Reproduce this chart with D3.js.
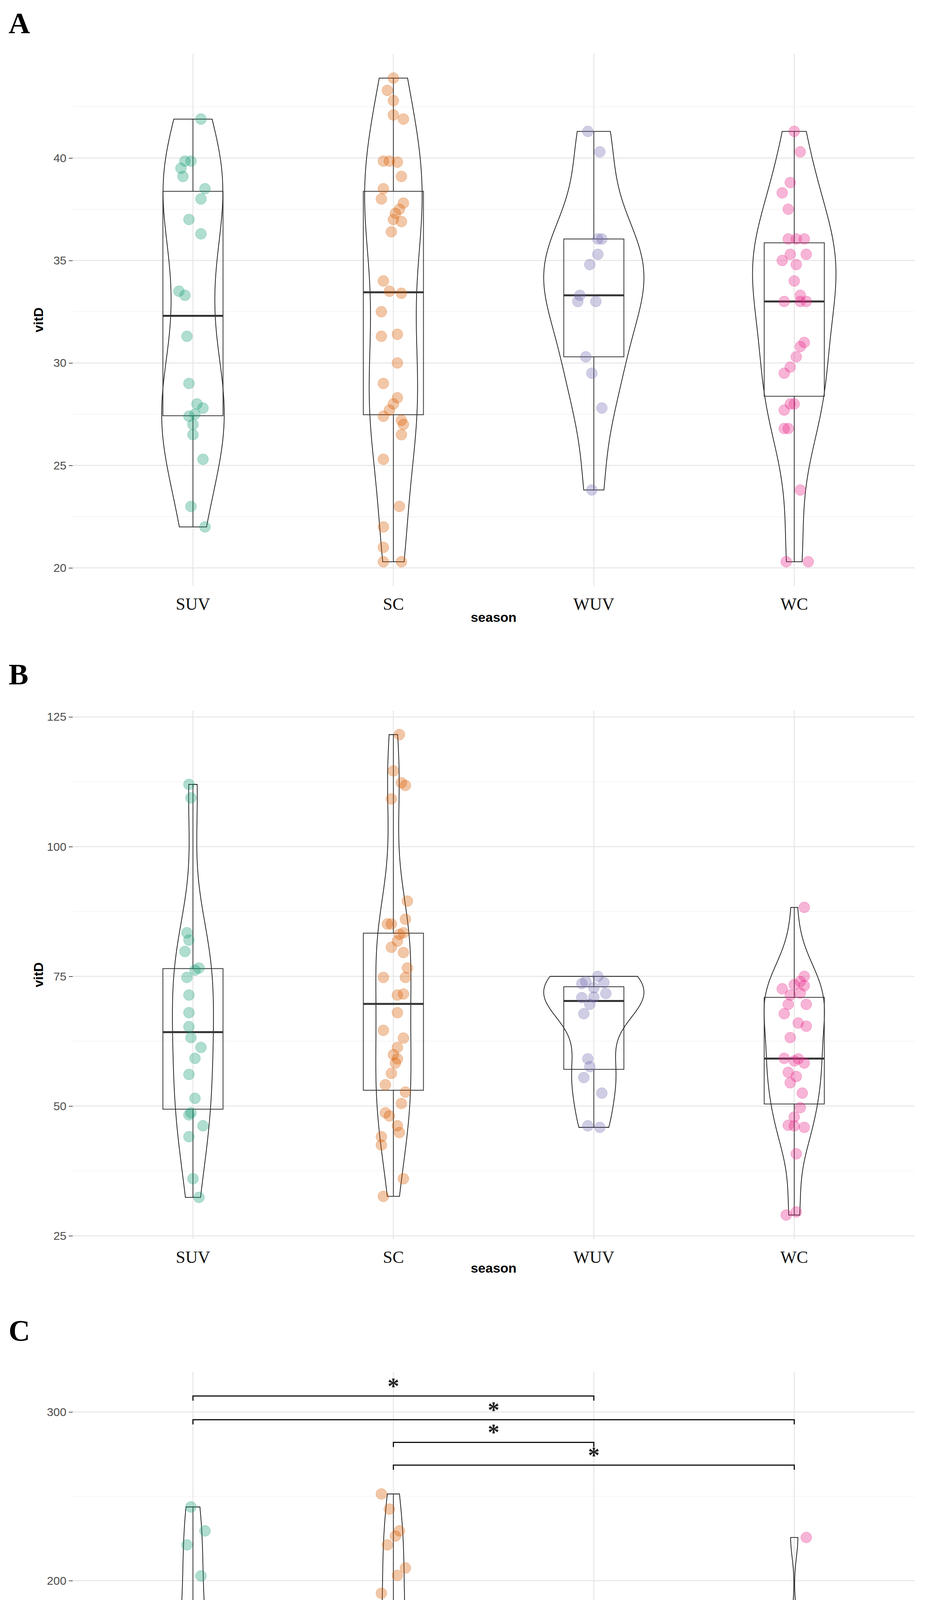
<!DOCTYPE html>
<html>
<head>
<meta charset="utf-8">
<script src="https://cdn.jsdelivr.net/npm/d3@7"></script>
<style>
  body { margin: 0; background: #fff; }
</style>
</head>
<body>
<div id="chart"></div>
<script>
const seasons = ["SUV", "SC", "WUV", "WC"];
const colors = ["#1B9E77", "#D95F02", "#7570B3", "#E7298A"];

// each point: [jitter offset in category steps, vitD value]
const panelA = {
  SUV: [[0.04,41.9],[-0.01,39.85],[-0.04,39.85],[-0.06,39.5],[-0.05,39.1],[0.06,38.5],[0.04,38.0],[-0.02,37.0],[0.04,36.3],[-0.07,33.5],[-0.04,33.3],[-0.03,31.3],[-0.02,29.0],[0.02,28.0],[0.05,27.8],[0.01,27.5],[-0.02,27.4],[0.0,27.0],[0.0,26.5],[0.05,25.3],[-0.01,23.0],[0.06,22.0]],
  SC: [[0.0,43.9],[-0.03,43.3],[0.0,42.8],[0.0,42.1],[0.05,41.9],[-0.05,39.85],[-0.02,39.85],[0.02,39.8],[0.04,39.1],[-0.05,38.5],[-0.06,38.0],[0.05,37.8],[0.03,37.5],[0.01,37.3],[0.0,37.0],[0.04,36.9],[-0.01,36.4],[-0.05,34.0],[-0.02,33.5],[0.04,33.4],[-0.06,32.5],[-0.06,31.3],[0.02,31.4],[0.02,30.0],[-0.05,29.0],[0.02,28.3],[0.0,28.0],[-0.02,27.7],[-0.05,27.4],[0.04,27.2],[0.05,27.0],[0.04,26.5],[-0.05,25.3],[0.03,23.0],[-0.05,22.0],[-0.05,21.0],[-0.05,20.3],[0.04,20.3]],
  WUV: [[-0.03,41.3],[0.03,40.3],[0.02,36.05],[0.04,36.05],[0.02,35.3],[-0.02,34.8],[-0.07,33.3],[-0.08,33.0],[0.01,33.0],[-0.04,30.3],[-0.01,29.5],[0.04,27.8],[-0.01,23.8]],
  WC: [[0.0,41.3],[0.03,40.3],[-0.02,38.8],[-0.06,38.3],[-0.03,37.5],[-0.03,36.05],[0.01,36.05],[0.05,36.05],[-0.06,35.0],[0.01,34.8],[0.06,35.3],[-0.02,35.3],[0.0,34.0],[0.03,33.3],[-0.05,33.0],[0.06,33.0],[0.03,33.0],[0.05,31.0],[0.03,30.8],[0.01,30.3],[-0.02,29.8],[-0.05,29.5],[0.0,28.0],[-0.02,28.0],[-0.05,27.7],[-0.05,26.8],[-0.03,26.8],[0.03,23.8],[-0.04,20.3],[0.07,20.3]]
};
const panelB = {
  SUV: [[-0.02,112.0],[-0.01,109.4],[-0.03,83.4],[-0.02,82.0],[-0.04,79.8],[0.03,76.6],[0.01,76.2],[-0.03,74.8],[-0.02,71.4],[-0.02,68.0],[-0.02,65.3],[-0.01,63.2],[0.04,61.3],[0.01,59.2],[-0.02,56.1],[0.01,51.5],[-0.02,48.3],[-0.01,48.7],[0.05,46.2],[-0.02,44.1],[0.0,36.0],[0.03,32.4]],
  SC: [[0.03,121.6],[0.0,114.6],[0.04,112.3],[0.06,111.8],[-0.01,109.2],[0.07,89.5],[-0.03,85.1],[-0.01,85.1],[0.06,86.0],[0.05,83.4],[0.03,83.1],[0.02,81.8],[-0.01,80.6],[0.05,79.6],[0.07,76.6],[0.06,74.8],[-0.05,74.8],[0.02,71.4],[0.05,71.6],[0.02,68.0],[-0.05,64.6],[0.05,63.1],[0.02,61.3],[0.0,59.9],[0.02,59.1],[0.01,58.3],[-0.01,56.3],[-0.04,54.1],[0.06,52.7],[0.04,50.5],[-0.04,48.7],[-0.02,48.1],[0.02,46.2],[0.03,44.9],[-0.06,44.1],[-0.06,42.5],[0.05,36.0],[-0.05,32.6]],
  WUV: [[-0.04,74.0],[0.02,75.0],[0.05,73.8],[-0.06,73.6],[0.0,72.8],[0.06,71.7],[-0.06,70.9],[0.0,71.0],[-0.02,69.6],[-0.05,67.8],[-0.03,59.1],[-0.02,57.6],[-0.05,55.5],[0.04,52.5],[-0.03,46.2],[0.03,45.9]],
  WC: [[0.05,88.3],[0.05,75.0],[0.03,74.0],[0.0,73.4],[0.05,73.2],[-0.06,72.6],[-0.02,71.4],[0.03,71.8],[0.06,69.6],[-0.03,69.6],[-0.05,67.8],[0.02,66.0],[0.06,65.4],[-0.02,63.2],[-0.05,59.2],[0.0,58.7],[0.02,59.1],[0.05,58.3],[-0.03,56.5],[0.01,55.7],[-0.02,54.5],[0.04,52.5],[0.03,49.7],[0.0,47.9],[-0.03,46.3],[0.0,46.2],[0.05,45.9],[0.01,40.8],[-0.04,29.0],[0.01,29.6]]
};
const panelC = {
  SUV: [[-0.01,243.7],[0.06,229.5],[-0.03,221.2],[0.04,202.8],[0.05,178.3],[0.0,173.1],[0.05,161.0],[-0.04,150.6],[-0.02,139.0],[-0.06,126.1],[0.05,118.9],[-0.05,109.3],[0.04,110.1],[0.03,102.1],[-0.06,95.6],[-0.02,93.0],[0.03,91.2],[0.05,88.6],[-0.03,82.7],[0.02,77.5]],
  SC: [[-0.06,251.4],[-0.02,242.4],[0.03,229.5],[0.01,226.4],[-0.03,221.2],[0.06,207.5],[0.02,203.1],[-0.06,192.5],[-0.05,178.3],[0.05,173.1],[0.0,169.5],[-0.01,161.8],[0.06,150.6],[0.01,148.8],[0.0,139.5],[0.06,126.1],[-0.05,118.9],[-0.03,115.8],[0.03,111.1],[0.01,108.5],[-0.04,105.4],[0.05,104.1],[-0.03,98.2],[0.01,95.1],[-0.06,91.2],[0.02,89.9],[-0.02,86.0],[-0.06,88.6],[0.01,80.9],[0.06,78.3],[-0.03,75.7],[0.01,71.8],[-0.01,69.8],[-0.05,51.7]],
  WUV: [[-0.01,111.9],[-0.02,102.1],[0.06,101.0],[-0.03,75.7],[0.05,74.9],[0.0,69.8],[0.04,69.3],[-0.05,64.1],[-0.02,60.2],[-0.06,58.4],[0.0,56.3],[0.05,52.5],[-0.03,48.6],[0.0,47.3],[0.05,39.5],[-0.03,39.5],[-0.06,34.4],[-0.01,29.2],[-0.05,27.1]],
  WC: [[0.06,225.6],[-0.03,170.5],[-0.07,111.9],[0.0,101.5],[0.01,100.3],[-0.01,89.9],[0.04,81.6],[-0.04,78.3],[0.02,77.0],[0.04,74.9],[-0.02,71.3],[0.06,67.9],[-0.05,66.7],[-0.01,62.8],[0.02,61.5],[-0.04,58.4],[0.01,56.8],[0.04,55.0],[-0.02,52.5],[-0.05,47.3],[0.02,48.1],[0.06,46.0],[0.0,43.9],[-0.04,42.1],[0.02,40.8],[0.03,36.9],[0.0,35.6],[-0.04,33.1],[-0.04,26.6],[0.06,24.0]]
};

const ticksA = [20, 25, 30, 35, 40];
const ticksB = [25, 50, 75, 100, 125];
const ticksC = [100, 200, 300];

const comparisons = [["SUV", "WUV"], ["SUV", "WC"], ["SC", "WUV"], ["SC", "WC"]];
const bracketY = [309.5, 295.4, 282, 268.5];
const bracketLabels = ["*", "*", "*", "*"];

const width = 2418, height = 4990;
const left = 186, right = 2340;

const svg = d3.select("#chart").append("svg")
  .attr("width", width).attr("height", height)
  .style("font-family", "'Liberation Sans', Arial, sans-serif");

const x = d3.scalePoint().domain(seasons).range([left, right]).padding(0.6);
const step = x.step();
const color = d3.scaleOrdinal().domain(seasons).range(colors);

function nrd0(v) {
  const s = d3.deviation(v);
  const iqr = (d3.quantile(v, 0.75) - d3.quantile(v, 0.25)) / 1.34;
  let lo = Math.min(s, iqr);
  if (!(lo > 0)) lo = s || Math.abs(v[0]) || 1;
  return 0.9 * lo * Math.pow(v.length, -0.2);
}

function kde(values) {
  const v = values.slice().sort(d3.ascending);
  const bw = nrd0(v);
  const lo = v[0], hi = v[v.length - 1];
  const n = 200;
  return d3.range(n + 1).map(i => {
    const t = lo + (hi - lo) * i / n;
    const dens = d3.mean(v, d => Math.exp(-0.5 * ((t - d) / bw) ** 2)) / (bw * Math.sqrt(2 * Math.PI));
    return [t, dens];
  });
}

function drawPanel(cfg) {
  const g = svg.append("g");
  const all = seasons.flatMap(s => cfg.data[s].map(d => d[1])).concat(cfg.extra || []);
  const lo = d3.min(all), hi = d3.max(all), pad = (hi - lo) * 0.05;
  const y = d3.scaleLinear().domain([lo - pad, hi + pad]).range([cfg.bottom, cfg.top]);

  // minor grid
  const minor = cfg.ticks.slice(0, -1).map((t, i) => (t + cfg.ticks[i + 1]) / 2);
  const stepT = cfg.ticks[1] - cfg.ticks[0];
  minor.push(cfg.ticks[0] - stepT / 2, cfg.ticks[cfg.ticks.length - 1] + stepT / 2);
  g.selectAll(".minor").data(minor.filter(t => t > y.domain()[0] && t < y.domain()[1])).join("line")
    .attr("x1", left).attr("x2", right).attr("y1", y).attr("y2", y)
    .attr("stroke", "#F2F2F2").attr("stroke-width", 1.5);
  g.selectAll(".major").data(cfg.ticks).join("line")
    .attr("x1", left).attr("x2", right).attr("y1", y).attr("y2", y)
    .attr("stroke", "#E6E6E6").attr("stroke-width", 2.5);
  g.selectAll(".vgrid").data(seasons).join("line")
    .attr("x1", d => x(d)).attr("x2", d => x(d)).attr("y1", cfg.top).attr("y2", cfg.bottom)
    .attr("stroke", "#E6E6E6").attr("stroke-width", 2.5);

  // y axis
  const yAxis = g.append("g").attr("transform", `translate(${left},0)`)
    .call(d3.axisLeft(y).tickValues(cfg.ticks).tickSize(10).tickPadding(6));
  yAxis.select(".domain").remove();
  yAxis.selectAll("line").attr("stroke", "#555").attr("stroke-width", 2);
  yAxis.selectAll("text").attr("fill", "#4D4D4D").style("font-size", "30px")
    .style("font-family", "'Liberation Sans Narrow', 'Liberation Sans', sans-serif");

  // density scale (shared across groups)
  const dens = seasons.map(s => kde(cfg.data[s].map(d => d[1])));
  const maxD = d3.max(dens, a => d3.max(a, d => d[1]));
  const w = d3.scaleLinear().domain([0, maxD]).range([0, 0.25 * step]);

  seasons.forEach((s, i) => {
    const cx = x(s);
    const area = d3.area().curve(d3.curveLinear)
      .y(d => y(d[0])).x0(d => cx - w(d[1])).x1(d => cx + w(d[1]));
    g.append("path").datum(dens[i]).attr("d", area)
      .attr("fill", "none").attr("stroke", "#111").attr("stroke-width", 1.8);

    const vals = cfg.data[s].map(d => d[1]).sort(d3.ascending);
    const q1 = d3.quantile(vals, 0.25), med = d3.quantile(vals, 0.5), q3 = d3.quantile(vals, 0.75);
    const iqr = q3 - q1;
    const wLo = d3.min(vals.filter(v => v >= q1 - 1.5 * iqr));
    const wHi = d3.max(vals.filter(v => v <= q3 + 1.5 * iqr));
    const bw = 0.3 * step;
    g.append("line").attr("x1", cx).attr("x2", cx).attr("y1", y(q3)).attr("y2", y(wHi))
      .attr("stroke", "#333").attr("stroke-width", 2);
    g.append("line").attr("x1", cx).attr("x2", cx).attr("y1", y(q1)).attr("y2", y(wLo))
      .attr("stroke", "#333").attr("stroke-width", 2);
    g.append("rect").attr("x", cx - bw / 2).attr("width", bw)
      .attr("y", y(q3)).attr("height", y(q1) - y(q3))
      .attr("fill", "none").attr("stroke", "#333").attr("stroke-width", 2);
    g.append("line").attr("x1", cx - bw / 2).attr("x2", cx + bw / 2).attr("y1", y(med)).attr("y2", y(med))
      .attr("stroke", "#333").attr("stroke-width", 5);

    g.selectAll(null).data(cfg.data[s]).join("circle")
      .attr("cx", d => cx + d[0] * step).attr("cy", d => y(d[1])).attr("r", 14)
      .attr("fill", color(s)).attr("fill-opacity", 0.35)
      .attr("stroke", color(s)).attr("stroke-opacity", 0.35);
  });

  // x labels
  g.selectAll(".xl").data(seasons).join("text")
    .attr("x", d => x(d)).attr("y", cfg.bottom + 30).attr("text-anchor", "middle")
    .attr("dominant-baseline", "hanging")
    .style("font-family", "'Liberation Serif', 'Times New Roman', serif").style("font-size", "44px")
    .attr("fill", "#111").text(d => d);
  g.append("text").attr("x", (left + right) / 2).attr("y", cfg.seasonY).attr("text-anchor", "middle")
    .style("font-size", "34px").style("font-weight", "bold").text("season");
  g.append("text").attr("transform", `translate(110,${(cfg.top + cfg.bottom) / 2}) rotate(-90)`)
    .attr("text-anchor", "middle").style("font-size", "34px").style("font-weight", "bold").text("vitD");
  g.append("text").attr("x", 22).attr("y", cfg.letterY)
    .style("font-family", "'Liberation Serif', 'Times New Roman', serif")
    .style("font-size", "76px").style("font-weight", "bold").text(cfg.letter);

  if (cfg.brackets) {
    comparisons.forEach((c, i) => {
      const x1 = x(c[0]), x2 = x(c[1]), yy = y(bracketY[i]);
      g.append("path").attr("d", `M${x1},${yy + 12}V${yy}H${x2}V${yy + 12}`)
        .attr("fill", "none").attr("stroke", "#111").attr("stroke-width", 3);
      g.append("text").attr("x", (x1 + x2) / 2).attr("y", yy - 6).attr("text-anchor", "middle")
        .style("font-family", "'Liberation Serif', serif").style("font-size", "60px").style("font-weight", "bold")
        .attr("fill", "#222").text(bracketLabels[i]);
    });
  }
}

drawPanel({ data: panelA, ticks: ticksA, top: 138, bottom: 1500, seasonY: 1592, letterY: 85, letter: "A" });
drawPanel({ data: panelB, ticks: ticksB, top: 1819, bottom: 3172, seasonY: 3258, letterY: 1752, letter: "B" });
drawPanel({ data: panelC, ticks: ticksC, top: 3512, bottom: 4868, seasonY: 4962, letterY: 3432, letter: "C",
  brackets: true, extra: bracketY });
</script>
</body>
</html>
